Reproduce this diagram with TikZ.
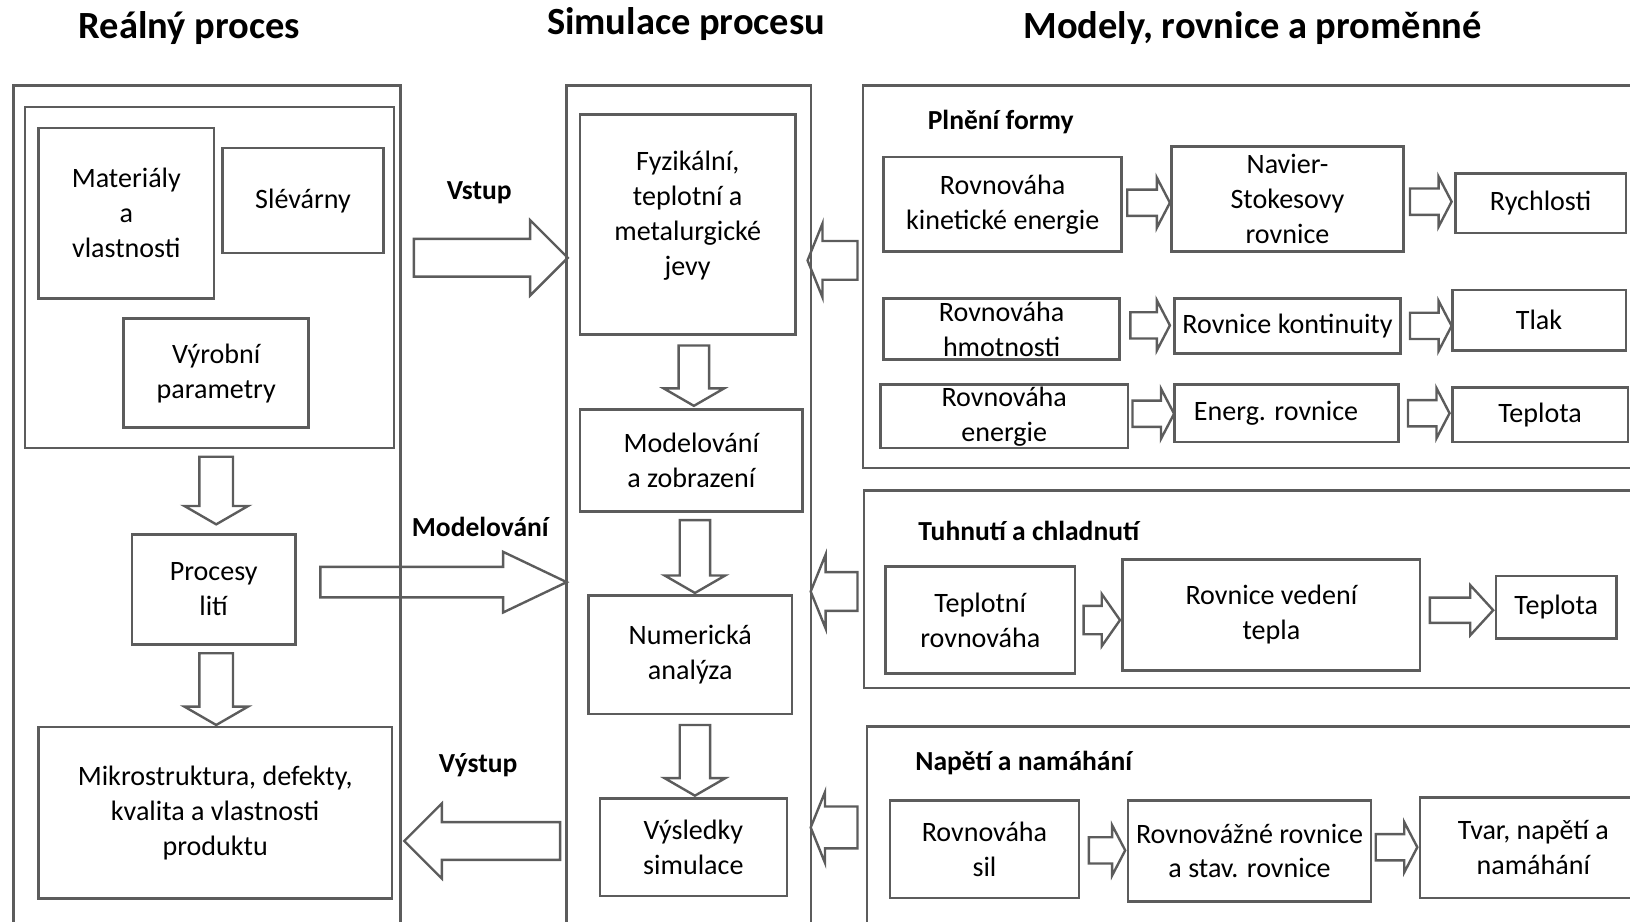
\documentclass[tikz,border=0pt]{standalone}
\usepackage{fontspec}
\setmainfont{Carlito}
\usepackage{tikz}
\usetikzlibrary{shapes.arrows}
\usetikzlibrary{calc}
\definecolor{linegray}{gray}{0.36}
\tikzset{
	box/.style={draw=linegray,line width=2.5pt,align=center,inner sep=0pt,font=\fontsize{27}{33.5}\selectfont},
	frame/.style={draw=linegray,line width=2.5pt,inner sep=0pt},
	head/.style={font=\fontsize{26.5}{30}\selectfont\bfseries},
	title/.style={font=\fontsize{37}{40}\selectfont\bfseries},
	hollow/.style={single arrow,draw=linegray,line width=2.3pt,inner xsep=0pt,single arrow head indent=0pt,anchor=tail},
	big arrow/.style={hollow,inner ysep=17pt,single arrow head extend=18pt,single arrow tip angle=90},
	down arrow/.style={hollow,inner ysep=13.5pt,single arrow head extend=14.5pt,single arrow tip angle=120,rotate=-90},
	back arrow/.style={hollow,inner ysep=17.5pt,single arrow head extend=17pt,single arrow tip angle=136,rotate=180},
	small arrow/.style={hollow,inner ysep=11.5pt,single arrow head extend=11.5pt,single arrow tip angle=125,minimum height=40pt}
}

\begin{document}
\begin{tikzpicture}[x=1pt,y=-1pt]
\useasboundingbox (0,0) rectangle (1568,886);
\clip (0,0) rectangle (1568,886);

\node[title] (t1) at (182,27) {Reálný proces};
\node[title] (t2) at (660,23) {Simulace procesu};
\node[title] (t3) at (1205,27) {Modely, rovnice a proměnné};

\node[frame,minimum width=372pt,minimum height=818pt] (real) at (199,491) {};
\node[frame,minimum width=355pt,minimum height=328pt] (inputs) at (201.5,267) {};
\node[box,minimum width=169pt,minimum height=164pt] (mat) at (121.5,205) {Materiály\\a\\vlastnosti};
\node[box,minimum width=155pt,minimum height=101pt] (slev) at (291.5,193) {Slévárny};
\node[box,minimum width=178pt,minimum height=105pt] (vyr) at (208,359) {Výrobní\\parametry};
\node[box,minimum width=157pt,minimum height=106pt] (lit) at (205.5,567) {Procesy\\lití};
\node[box,minimum width=340pt,minimum height=165pt] (prod) at (207,782) {Mikrostruktura, defekty,\\kvalita a vlastnosti\\produktu};

\node[frame,minimum width=235pt,minimum height=818pt] (sim) at (662.5,491) {};
\node[box,minimum width=207pt,minimum height=212pt] (fyz) at (661.5,216) {Fyzikální,\\teplotní a\\metalurgické\\jevy\\[-12pt]};
\node[box,minimum width=214pt,minimum height=98pt] (mod) at (665,443) {Modelování\\a zobrazení};
\node[box,minimum width=196pt,minimum height=114pt] (num) at (664,630) {Numerická\\analýza};
\node[box,minimum width=180pt,minimum height=94pt] (vys) at (667,815) {Výsledky\\simulace};

\node[frame,minimum width=770pt,minimum height=368pt] (plneni) at (1215,266) {};
\node[frame,minimum width=769pt,minimum height=190pt] (tuhnuti) at (1215.5,567) {};
\node[frame,minimum width=766pt,minimum height=201pt] (napeti) at (1217,799.5) {};
\node[head,anchor=west] (plnenilabel) at (889,117) {Plnění formy};
\node[head,anchor=west] (tuhnutilabel) at (880,511) {Tuhnutí a chladnutí};
\node[head,anchor=west] (napetilabel) at (877,734) {Napětí a namáhání};

\node[box,minimum width=229pt,minimum height=91pt] (kin) at (964.5,196.5) {Rovnováha\\kinetické energie};
\node[box,minimum width=223pt,minimum height=101pt] (ns) at (1238.5,191.5) {Navier-\\Stokesovy\\rovnice};
\node[box,minimum width=164pt,minimum height=57pt] (rych) at (1482,195.5) {Rychlosti};
\node[box,minimum width=227pt,minimum height=59pt] (hmot) at (963.5,316.5) {Rovnováha\\hmotnosti};
\node[box,minimum width=217pt,minimum height=53pt] (kont) at (1238.5,313.5) {Rovnice kontinuity};
\node[box,minimum width=167pt,minimum height=58pt] (tlak) at (1480.5,308) {Tlak};
\node[box,minimum width=238pt,minimum height=61pt] (ener) at (966,400.5) {Rovnováha\\energie};
\node[box,minimum width=215pt,minimum height=55pt] (enrov) at (1237.5,397.5) {Energ. rovnice\hspace{20pt}};
\node[box,minimum width=169pt,minimum height=52pt] (tepl1) at (1481.5,399) {Teplota};

\node[box,minimum width=182pt,minimum height=103pt] (tepr) at (943,596.5) {Teplotní\\rovnováha};
\node[box,minimum width=286pt,minimum height=107pt] (vedeni) at (1223,591.5) {Rovnice vedení\\tepla};
\node[box,minimum width=116pt,minimum height=60pt] (tepl2) at (1497,584) {Teplota};

\node[box,minimum width=182pt,minimum height=94pt] (sil) at (947,817) {Rovnováha\\sil};
\node[box,minimum width=234pt,minimum height=97pt] (rovn) at (1202,818.5) {Rovnovážné rovnice\\a stav. rovnice};
\node[box,minimum width=218pt,minimum height=97pt] (tvar) at (1475,815.5) {Tvar, napětí a\\namáhání};

\node[head] (vstup) at (461,185) {Vstup};
\node[head] (modelovani) at (462,507) {Modelování};
\node[head] (vystup) at (460,736) {Výstup};
\node[big arrow,minimum height=148pt] (vstuparrow) at (397,248) {};
\node[big arrow,minimum height=237pt,inner ysep=13.5pt,single arrow head extend=14.5pt,single arrow tip angle=51] (modarrow) at (307,560) {};
\node[big arrow,minimum height=150pt,rotate=180] (vystuparrow) at (540,809) {};

\node[down arrow,minimum height=65pt,inner ysep=15pt] (inarrow) at ($(inputs.south)+(6.5,6)$) {};
\node[down arrow,minimum height=69pt,inner ysep=15pt] (litarrow) at ($(lit.south)+(2.5,6)$) {};
\node[down arrow,minimum height=58pt] (fyzarrow) at ($(fyz.south)+(6,8)$) {};
\node[down arrow,minimum height=70pt] (modarrow2) at ($(mod.south)+(3.5,6)$) {};
\node[down arrow,minimum height=68pt] (numarrow) at ($(num.south)+(4.5,8)$) {};

\node[back arrow,minimum height=48pt] (plneniarrow) at (826,250.5) {};
\node[back arrow,minimum height=45pt] (tuhnutiarrow) at (826,569) {};
\node[back arrow,minimum height=45pt,inner ysep=19pt,single arrow head extend=14pt] (napetiarrow) at (826,796) {};

\node[small arrow,minimum height=41pt] (kinarrow) at ($(kin.east)+(3,-1.5)$) {};
\node[small arrow] (nsarrow) at ($(ns.east)+(4,2.5)$) {};
\node[small arrow,minimum height=38pt] (hmotarrow) at ($(hmot.east)+(8,-3.5)$) {};
\node[small arrow] (kontarrow) at ($(kont.east)+(7,0)$) {};
\node[small arrow] (enerarrow) at ($(ener.east)+(2,-2.5)$) {};
\node[small arrow] (enrovarrow) at ($(enrov.east)+(7,0)$) {};
\node[small arrow,minimum height=35pt,inner ysep=12.5pt,single arrow tip angle=110] (teprarrow) at ($(tepr.east)+(6,0)$) {};
\node[small arrow,minimum height=61pt,inner ysep=11pt,single arrow head extend=12pt,single arrow tip angle=95] (vedeniarrow) at ($(vedeni.east)+(7,-4.5)$) {};
\node[small arrow,minimum height=35pt] (silarrow) at ($(sil.east)+(7,1)$) {};
\node[small arrow] (rovnarrow) at ($(rovn.east)+(2,-3.5)$) {};
\end{tikzpicture}
\end{document}
